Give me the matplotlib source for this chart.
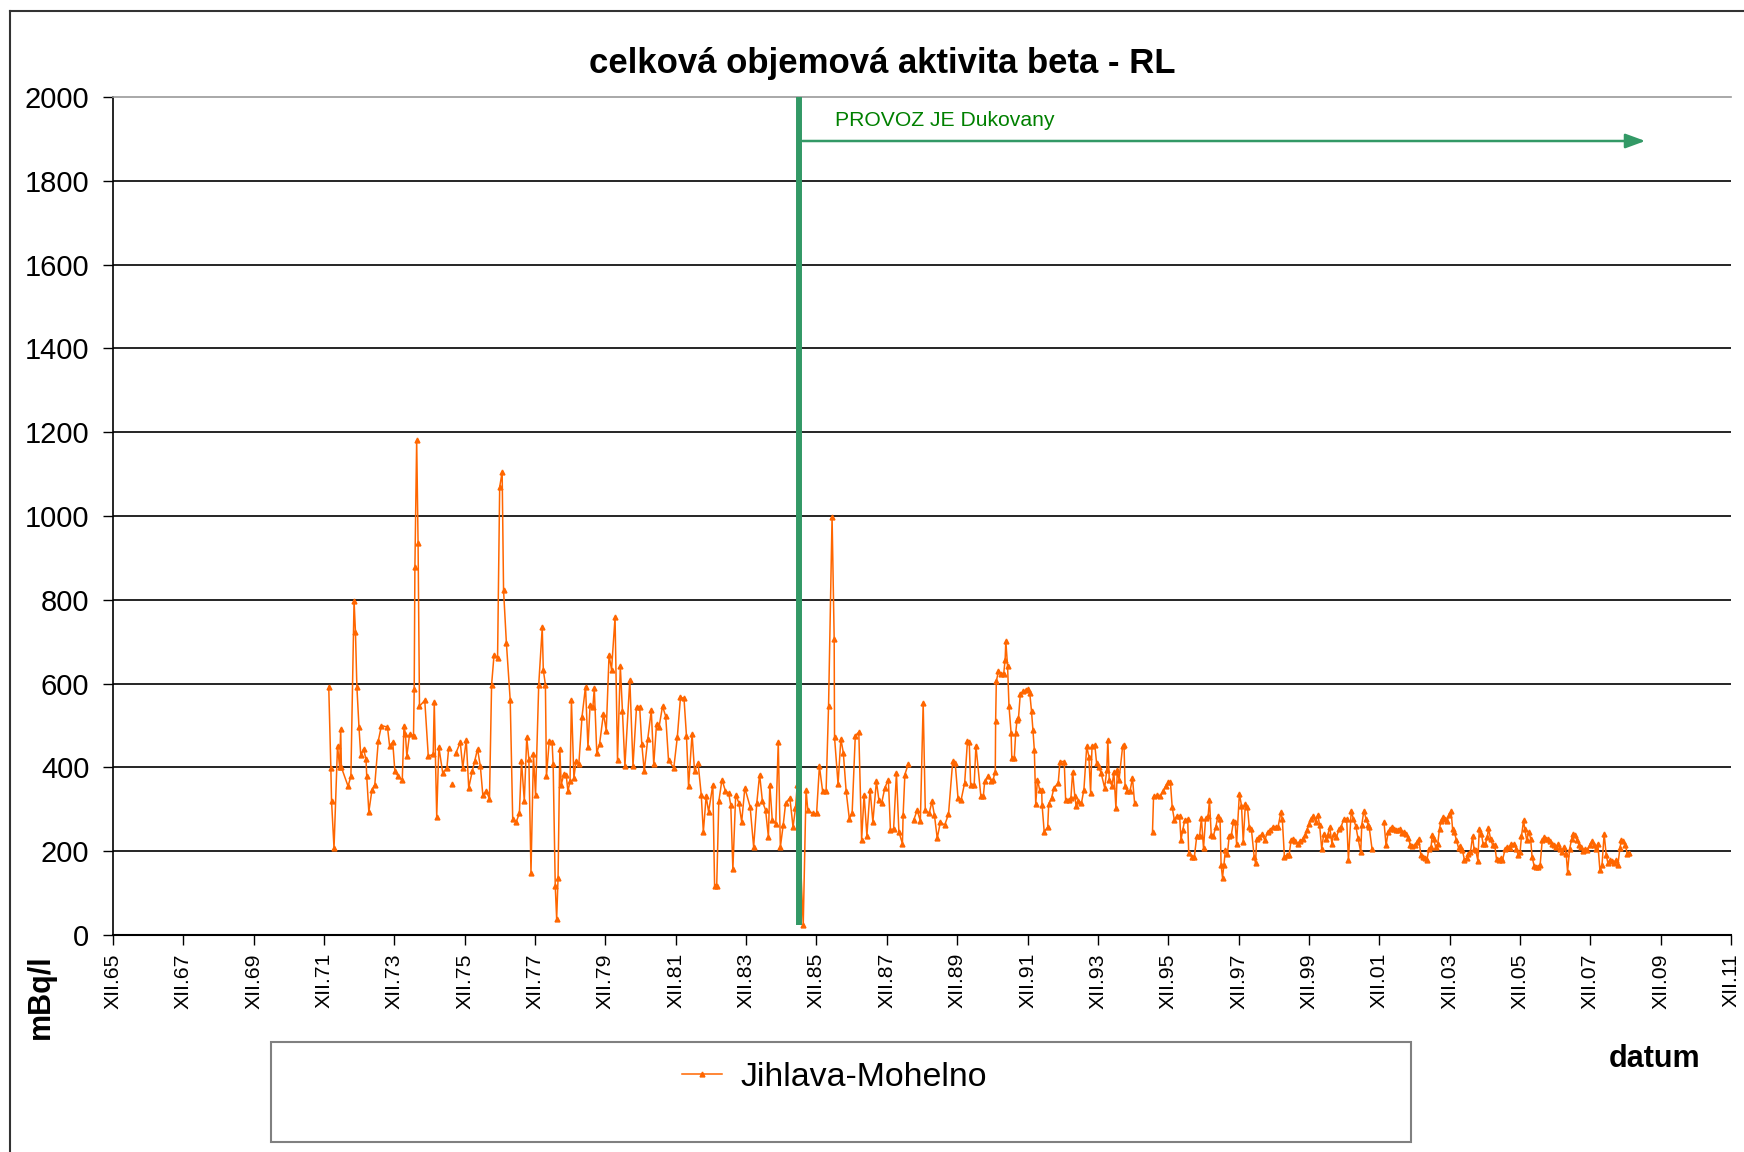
#!/usr/bin/env python
"""
celkova objemova aktivita beta - RL, Jihlava-Mohelno
"""

import numpy as np
from matplotlib import pyplot as plt
from matplotlib.lines import Line2D
from matplotlib.patches import Rectangle

plt.rcParams['font.family'] = ['Liberation Sans', 'DejaVu Sans']

# dates as decimal years, values in mBq/l
# (nan marks a break in the measured series)
dates_72_75 = [1972.05, 1972.11, 1972.13, 1972.20, 1972.30, 1972.36, 1972.39, 1972.41, 1972.60, 1972.68,
               1972.77, 1972.81, 1972.85, 1972.91, 1972.96, 1973.04, 1973.11, 1973.13, 1973.19, 1973.28,
               1973.36, 1973.46, 1973.55, 1973.72, 1973.78, 1973.87, 1973.93, 1974.02, 1974.14, 1974.19,
               1974.23, 1974.27, 1974.35, 1974.46, 1974.48, 1974.50, 1974.55, 1974.59, 1974.63, 1974.78,
               1974.88, 1975.02, 1975.05, 1975.12, 1975.18, 1975.29, 1975.41, 1975.46, 1975.50, 1975.56,
               1975.60]
vals_72_75 = [593, 399, 320, 207, 452, 400, 492, 400, 355, 379,
              798, 722, 593, 496, 429, 444, 419, 379, 294, 347,
              359, 464, 500, 496, 452, 460, 391, 379, 369, 500,
              480, 427, 480, 476, 587, 879, 1181, 935, 546, 560,
              427, 431, 556, 282, 449, 387, 399, 446, np.nan, 360,
              np.nan]

dates_75_81 = [1975.67, 1975.79, 1975.86, 1975.96, 1976.03, 1976.13, 1976.20, 1976.28, 1976.36, 1976.43,
               1976.53, 1976.62, 1976.68, 1976.75, 1976.85, 1976.91, 1976.98, 1977.02, 1977.10, 1977.21,
               1977.28, 1977.38, 1977.47, 1977.53, 1977.61, 1977.68, 1977.74, 1977.80, 1977.87, 1977.93,
               1978.02, 1978.12, 1978.15, 1978.21, 1978.24, 1978.32, 1978.40, 1978.43, 1978.49, 1978.53,
               1978.57, 1978.62, 1978.66, 1978.74, 1978.80, 1978.85, 1978.91, 1978.95, 1979.02, 1979.08,
               1979.16, 1979.25, 1979.35, 1979.42, 1979.48, 1979.56, 1979.60, 1979.67, 1979.75, 1979.86,
               1979.94, 1980.02, 1980.09, 1980.19, 1980.26, 1980.34, 1980.40, 1980.47, 1980.61, 1980.70,
               1980.80, 1980.89, 1980.95]
vals_75_81 = [435, 460, 399, 465, 351, 391, 415, 444, 403, 335,
              343, 325, 597, 669, 661, 1069, 1105, 823, 698, 560,
              278, 270, 290, 415, 320, 472, 419, 149, 431, 333,
              597, 734, 633, 597, 379, 464, 460, 407, 117, 38,
              137, 444, 359, 385, 383, 343, 367, 560, 375, 415,
              407, 520, 593, 448, 548, 544, 589, 435, 456, 528,
              488, 669, 633, 758, 417, 641, 535, 403, 609, 403,
              544, 544, 456]

dates_81_88 = [1981.02, 1981.12, 1981.22, 1981.29, 1981.37, 1981.44, 1981.54, 1981.63, 1981.71, 1981.86,
               1981.96, 1982.05, 1982.15, 1982.22, 1982.28, 1982.38, 1982.45, 1982.55, 1982.64, 1982.70,
               1982.78, 1982.85, 1982.97, 1983.02, 1983.08, 1983.14, 1983.23, 1983.33, 1983.42, 1983.48,
               1983.54, 1983.62, 1983.71, 1983.79, 1983.88, 1984.03, 1984.13, 1984.22, 1984.30, 1984.38,
               1984.47, 1984.55, 1984.59, 1984.66, 1984.76, 1984.83, 1984.89, 1984.97, 1985.04, 1985.16,
               1985.25, 1985.32, 1985.37, 1985.54, 1985.62, 1985.67, 1985.81, 1985.92, 1986.00, 1986.09,
               1986.19, 1986.26, 1986.36, 1986.42, 1986.43, 1986.53, 1986.61, 1986.68, 1986.76, 1986.85,
               1986.93, 1987.02, 1987.12, 1987.20, 1987.27, 1987.35, 1987.44, 1987.52, 1987.62, 1987.69,
               1987.77, 1987.86, 1987.96, 1988.02, 1988.11, 1988.19, 1988.26, 1988.36, 1988.38, 1988.43,
               1988.53, 1988.60]
vals_81_88 = [391, 468, 536, 407, 504, 496, 546, 522, 417, 399,
              472, 567, 565, 476, 355, 480, 391, 411, 335, 246,
              331, 294, 359, 117, 117, 319, 371, 343, 339, 310,
              157, 335, 315, 270, 351, 306, 210, 315, 383, 319,
              298, 234, 359, 274, 266, 460, 210, 262, 315, 327,
              258, 302, 359, 24, 347, 298, 290, 290, 403, 344,
              344, 546, 998, 706, 472, 360, 468, 435, 343, 278,
              290, 476, 484, 226, 335, 237, 347, 270, 367, 323,
              315, 351, 371, 250, 254, 387, 246, 218, 286, 383,
              409, np.nan]

dates_88_95 = [1988.68, 1988.78, 1988.87, 1988.95, 1989.01, 1989.12, 1989.20, 1989.27, 1989.35, 1989.44,
               1989.56, 1989.67, 1989.79, 1989.86, 1989.94, 1990.03, 1990.13, 1990.21, 1990.26, 1990.30,
               1990.40, 1990.45, 1990.59, 1990.66, 1990.70, 1990.80, 1990.89, 1990.94, 1991.00, 1991.01,
               1991.03, 1991.09, 1991.17, 1991.24, 1991.28, 1991.30, 1991.35, 1991.39, 1991.45, 1991.47,
               1991.54, 1991.58, 1991.62, 1991.66, 1991.71, 1991.79, 1991.86, 1991.94, 1991.98, 1992.03,
               1992.07, 1992.11, 1992.15, 1992.20, 1992.26, 1992.32, 1992.33, 1992.39, 1992.49, 1992.52,
               1992.60, 1992.67, 1992.79, 1992.84, 1992.96, 1993.00, 1993.09, 1993.15, 1993.20, 1993.26,
               1993.30, 1993.35, 1993.45, 1993.52, 1993.60, 1993.66, 1993.71, 1993.75, 1993.83, 1993.88,
               1993.94, 1994.01, 1994.11, 1994.17, 1994.20, 1994.24, 1994.32, 1994.37, 1994.43, 1994.47,
               1994.52, 1994.62, 1994.66, 1994.69, 1994.75, 1994.83, 1994.90, 1994.96, 1995.20]
vals_88_95 = [274, 298, 272, 554, 298, 290, 319, 286, 231, 270,
              262, 288, 415, 411, 327, 323, 363, 464, 460, 359,
              359, 452, 331, 331, 367, 379, 367, 371, 390, 510,
              606, 629, 624, 624, 657, 701, 641, 546, 482, 422,
              422, 482, 514, 518, 574, 582, 584, 586, 578, 534,
              490, 442, 313, 371, 347, 345, 311, 247, 257, 313,
              327, 351, 363, 414, 414, 323, 323, 327, 390, 331,
              307, 319, 315, 347, 450, 426, 340, 450, 454, 410,
              402, 386, 351, 394, 466, 371, 355, 390, 303, 394,
              371, 450, 454, 355, 343, 343, 375, 316, np.nan]

dates_95_01 = [1995.47, 1995.50, 1995.60, 1995.69, 1995.77, 1995.84, 1995.92, 1995.98, 1996.03, 1996.09,
               1996.16, 1996.24, 1996.28, 1996.33, 1996.39, 1996.47, 1996.50, 1996.58, 1996.66, 1996.73,
               1996.81, 1996.86, 1996.92, 1996.98, 1997.05, 1997.09, 1997.14, 1997.20, 1997.27, 1997.33,
               1997.39, 1997.42, 1997.46, 1997.50, 1997.54, 1997.60, 1997.65, 1997.71, 1997.77, 1997.82,
               1997.86, 1997.94, 1998.00, 1998.05, 1998.11, 1998.17, 1998.22, 1998.28, 1998.36, 1998.40,
               1998.43, 1998.51, 1998.59, 1998.66, 1998.74, 1998.82, 1998.89, 1998.97, 1999.04, 1999.12,
               1999.16, 1999.22, 1999.29, 1999.35, 1999.41, 1999.46, 1999.52, 1999.60, 1999.67, 1999.75,
               1999.81, 1999.86, 1999.92, 1999.98, 2000.03, 2000.11, 2000.17, 2000.22, 2000.28, 2000.34,
               2000.40, 2000.45, 2000.51, 2000.57, 2000.62, 2000.70, 2000.78, 2000.83, 2000.91, 2000.99,
               2001.04, 2001.12, 2001.18, 2001.25, 2001.31, 2001.39, 2001.42, 2001.48, 2001.54, 2001.60,
               2001.63, 2001.71, 2001.90]
vals_95_01 = [247, 331, 333, 331, 343, 355, 364, 364, 305, 275,
              283, 284, 227, 251, 275, 276, 195, 187, 187, 237,
              237, 279, 207, 279, 283, 323, 238, 236, 258, 284,
              277, 167, 137, 167, 202, 194, 236, 238, 271, 270,
              218, 337, 309, 222, 313, 305, 258, 254, 187, 171,
              230, 234, 242, 226, 246, 250, 258, 258, 258, 293,
              277, 187, 190, 190, 226, 230, 224, 218, 224, 230,
              238, 250, 266, 277, 284, 270, 287, 263, 206, 242,
              230, 238, 258, 218, 242, 234, 254, 258, 277, 277,
              179, 297, 277, 260, 232, 198, 263, 297, 277, 263,
              258, 206, np.nan]

dates_02_09 = [2002.05, 2002.11, 2002.17, 2002.22, 2002.28, 2002.34, 2002.40, 2002.45, 2002.51, 2002.57,
               2002.62, 2002.68, 2002.74, 2002.80, 2002.85, 2002.93, 2002.99, 2003.04, 2003.10, 2003.16,
               2003.22, 2003.27, 2003.33, 2003.39, 2003.42, 2003.46, 2003.52, 2003.58, 2003.63, 2003.67,
               2003.73, 2003.79, 2003.84, 2003.90, 2003.96, 2004.00, 2004.05, 2004.11, 2004.17, 2004.22,
               2004.28, 2004.34, 2004.40, 2004.45, 2004.51, 2004.57, 2004.61, 2004.66, 2004.72, 2004.76,
               2004.82, 2004.87, 2004.93, 2004.99, 2005.02, 2005.08, 2005.14, 2005.20, 2005.25, 2005.31,
               2005.37, 2005.42, 2005.50, 2005.56, 2005.62, 2005.67, 2005.75, 2005.81, 2005.87, 2005.92,
               2005.96, 2006.02, 2006.05, 2006.11, 2006.17, 2006.22, 2006.26, 2006.32, 2006.38, 2006.43,
               2006.49, 2006.55, 2006.61, 2006.66, 2006.72, 2006.78, 2006.83, 2006.89, 2006.95, 2007.01,
               2007.06, 2007.12, 2007.18, 2007.23, 2007.27, 2007.33, 2007.39, 2007.42, 2007.48, 2007.54,
               2007.60, 2007.65, 2007.71, 2007.77, 2007.82, 2007.90, 2007.96, 2008.01, 2008.07, 2008.13,
               2008.19, 2008.25, 2008.31, 2008.37, 2008.42, 2008.48, 2008.53, 2008.59, 2008.64, 2008.70,
               2008.76, 2008.80, 2008.86, 2008.91, 2008.97, 2009.01]
vals_02_09 = [270, 214, 246, 252, 258, 254, 250, 250, 252, 244,
              247, 242, 232, 214, 213, 214, 222, 230, 190, 187,
              183, 179, 206, 210, 238, 230, 210, 218, 254, 271,
              281, 277, 271, 287, 295, 254, 246, 226, 208, 213,
              202, 179, 184, 194, 198, 236, 206, 202, 177, 252,
              242, 216, 216, 234, 255, 230, 214, 214, 181, 179,
              183, 179, 206, 210, 208, 218, 216, 206, 190, 198,
              236, 274, 254, 226, 247, 230, 187, 165, 163, 163,
              167, 226, 234, 230, 230, 224, 216, 214, 210, 216,
              206, 198, 210, 194, 151, 206, 230, 242, 238, 226,
              214, 210, 200, 206, 202, 214, 224, 214, 206, 218,
              155, 167, 242, 190, 171, 179, 177, 171, 179, 167,
              208, 226, 224, 214, 194, 196]

series_name = 'Jihlava-Mohelno'
dukovany_start = 1985.42          # start of operation of NPP Dukovany
arrow_from, arrow_to, arrow_level = 1985.52, 2009.48, 1895
tick_years = np.arange(1965, 2012, 2) + 11 / 12.0   # December of odd years
tick_labels = ['XII.%02d' % (y % 100) for y in range(1965, 2012, 2)]

dates = np.concatenate([dates_72_75, dates_75_81, dates_81_88, dates_88_95, dates_95_01, dates_02_09])
vals = np.concatenate([vals_72_75, vals_75_81, vals_81_88, vals_88_95, vals_95_01, vals_02_09])

W, H = 1744, 1152
fig = plt.figure(figsize=(W / 100.0, H / 100.0), dpi=100)
ax = fig.add_axes([113.0 / W, 1 - 935.0 / H, (1731.0 - 113) / W, (935.0 - 97) / H])

line, = ax.plot(dates, vals, color='#FF6600', lw=1.1, marker='^', ms=3.5,
                mfc='#FF6600', mec='#FF6600', zorder=3)

# Dukovany line and arrow
ax.plot([dukovany_start, dukovany_start], [25, 2000], color='#339966', lw=4.3,
        solid_capstyle='butt', zorder=4)
ax.annotate('', xy=(arrow_to, arrow_level), xytext=(arrow_from, arrow_level),
            arrowprops=dict(arrowstyle='-|>,head_length=0.6,head_width=0.22', color='#339966',
                            lw=1.8, mutation_scale=20, shrinkA=0, shrinkB=0))
ax.text(1986.44, 1944, 'PROVOZ JE Dukovany', color='#008000', fontsize=15.2, ha='left', va='center')

ax.set_xlim(1965 + 11 / 12.0, 2011 + 11 / 12.0)
ax.set_ylim(0, 2000)
ax.set_yticks(np.arange(0, 2001, 200))
ax.set_xticks(tick_years)
ax.set_xticklabels(tick_labels, rotation=90)

ax.yaxis.grid(True, color='black', lw=1.2)
ax.get_ygridlines()[-1].set_visible(False)
ax.get_ygridlines()[0].set_visible(False)
ax.set_axisbelow(True)

ax.spines['right'].set_visible(False)
ax.spines['top'].set_color('#999999')
ax.spines['top'].set_linewidth(1.2)
ax.spines['left'].set_linewidth(1.2)
ax.spines['bottom'].set_linewidth(1.5)

ax.tick_params(axis='y', direction='out', length=7, width=1, labelsize=21, pad=10)
ax.tick_params(axis='x', direction='out', length=7, width=1, labelsize=15.3, pad=6)

fig.text(882.0 / W, 1 - 63.0 / H, 'celková objemová aktivita beta - RL', ha='center', va='center',
         fontsize=25, fontweight='bold')
fig.text(41.0 / W, 1 - 997.0 / H, 'mBq/l', rotation=90, ha='center', va='center',
         fontsize=22, fontweight='bold')
fig.text(1655.0 / W, 1 - 1059.0 / H, 'datum', ha='center', va='center', fontsize=22, fontweight='bold')

# legend box and entry
fig.add_artist(Rectangle((271.0 / W, 1 - 1142.0 / H), (1411.0 - 271) / W, (1142.0 - 1042) / H,
                         transform=fig.transFigure, fill=False, ec='#808080', lw=1.5))
fig.legend(handles=[line], labels=[series_name], loc='center left',
           bbox_to_anchor=(682.0 / W, 1 - 1077.0 / H), frameon=False, fontsize=24.4,
           borderpad=0, borderaxespad=0, handlelength=1.17, handletextpad=0.55)

# outer chart border
fig.add_artist(Line2D([10.0 / W, 10.0 / W], [1 - 11.0 / H, 0], transform=fig.transFigure,
                      color='#333333', lw=1.5))
fig.add_artist(Line2D([10.0 / W, 1], [1 - 11.0 / H, 1 - 11.0 / H], transform=fig.transFigure,
                      color='#333333', lw=1.5))

plt.savefig('out.png', dpi=100)
